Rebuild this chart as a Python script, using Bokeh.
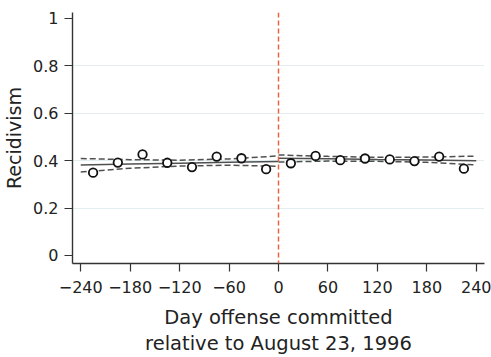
from bokeh.plotting import figure
from bokeh.models import FixedTicker, Span, Range1d
from bokeh.embed import file_html
from bokeh.resources import INLINE

# Binned means (30-day bins)
days = [-225, -195, -165, -135, -105, -75, -45, -15, 15, 45, 75, 105, 135, 165, 195, 225]
recid = [0.349, 0.392, 0.426, 0.391, 0.373, 0.417, 0.410, 0.364,
         0.389, 0.420, 0.402, 0.409, 0.405, 0.398, 0.417, 0.366]

# Fitted line and confidence band, left of cutoff
fit_x_left = [-240, -180, -120, -60, 0]
fit_left = [0.382, 0.386, 0.389, 0.393, 0.396]
upper_left = [0.409, 0.404, 0.402, 0.407, 0.420]
lower_left = [0.352, 0.368, 0.377, 0.381, 0.376]

# Fitted line and confidence band, right of cutoff
fit_x_right = [0, 60, 120, 180, 240]
fit_right = [0.410, 0.408, 0.405, 0.403, 0.400]
upper_right = [0.424, 0.418, 0.414, 0.415, 0.419]
lower_right = [0.394, 0.398, 0.397, 0.393, 0.382]

cutoff = 0
x_ticks = [-240, -180, -120, -60, 0, 60, 120, 180, 240]
x_tick_labels = ["\u2212240", "\u2212180", "\u2212120", "\u221260", "0", "60", "120", "180", "240"]
y_ticks = [0, 0.2, 0.4, 0.6, 0.8, 1]
y_tick_labels = ["0", "0.2", "0.4", "0.6", "0.8", "1"]
grid_ticks = [0.2, 0.4, 0.6, 0.8]

FONT = "DejaVu Sans"
AX = "#333333"

p = figure(width=491, height=357, output_backend="svg", toolbar_location=None,
           x_range=Range1d(-250, 250), y_range=Range1d(-0.034, 1.025),
           min_border_left=71, min_border_right=7, min_border_top=12, min_border_bottom=92)
p.outline_line_color = None
p.background_fill_color = "white"

p.xgrid.visible = False
p.ygrid.ticker = FixedTicker(ticks=grid_ticks)
p.ygrid.grid_line_color = "#e3eef0"
p.ygrid.grid_line_width = 1

for ax in (p.xaxis[0], p.yaxis[0]):
    ax.axis_line_color = AX
    ax.axis_line_width = 1.4
    ax.major_tick_line_color = AX
    ax.major_tick_line_width = 1.2
    ax.major_tick_out = 8
    ax.major_tick_in = 0
    ax.minor_tick_line_color = None
    ax.major_label_text_font = FONT
    ax.major_label_text_font_size = "16px"
    ax.major_label_text_color = "#222222"
    ax.axis_label_text_font = FONT
    ax.axis_label_text_font_style = "normal"
    ax.axis_label_text_color = "#222222"

p.xaxis.ticker = FixedTicker(ticks=x_ticks)
p.xaxis.major_label_overrides = {t: l for t, l in zip(x_ticks, x_tick_labels)}
p.xaxis.major_label_standoff = 9
p.xaxis.axis_label = "Day offense committed\nrelative to August 23, 1996"
p.xaxis.axis_label_standoff = 10
p.xaxis.axis_label_text_font_size = "19.5px"
p.xaxis.axis_label_text_line_height = 1.15

p.yaxis.ticker = FixedTicker(ticks=y_ticks)
p.yaxis.major_label_overrides = {t: l for t, l in zip(y_ticks, y_tick_labels)}
p.yaxis.major_label_standoff = 6
p.yaxis.axis_label = "Recidivism"
p.yaxis.axis_label_standoff = 5
p.yaxis.axis_label_text_font_size = "19px"

line_col = "#505050"
for xs, f, u, l in ((fit_x_left, fit_left, upper_left, lower_left),
                    (fit_x_right, fit_right, upper_right, lower_right)):
    p.line(xs, u, line_color=line_col, line_width=1.5, line_dash="6 3")
    p.line(xs, l, line_color=line_col, line_width=1.5, line_dash="6 3")
    p.line(xs, f, line_color=line_col, line_width=1.5)

p.add_layout(Span(location=cutoff, dimension="height", line_color="#f0623c",
                  line_width=1.5, line_dash="5 3"))

p.scatter(days, recid, marker="circle", size=8.5, fill_color="white",
          line_color="#111111", line_width=1.8)

open("out.html", "w").write(file_html(p, INLINE))
